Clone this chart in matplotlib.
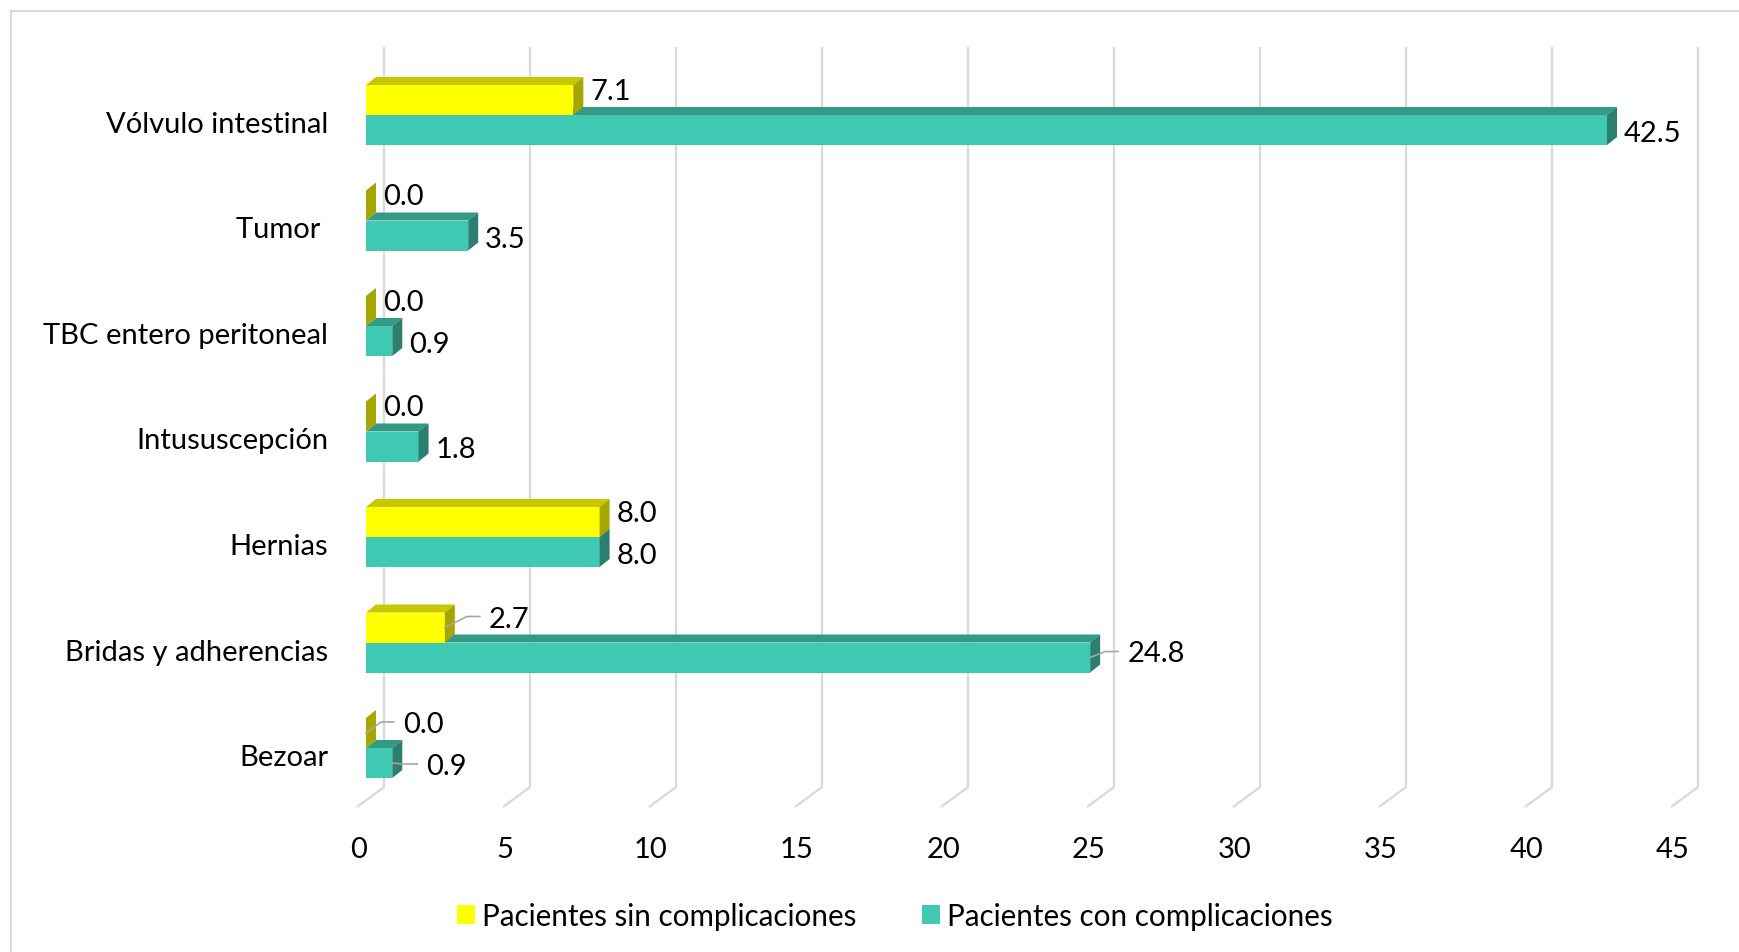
import numpy as np
import matplotlib
matplotlib.use("Agg")
import matplotlib.pyplot as plt
from matplotlib.patches import Polygon, Patch
from matplotlib.lines import Line2D

# ---------------------------------------------------------------------------
# Data
# ---------------------------------------------------------------------------
categories = ["Bezoar", "Bridas y adherencias", "Hernias", "Intususcepción",
              "TBC entero peritoneal", "Tumor ", "Vólvulo intestinal"]
sin_compl = [0.0, 2.7, 8.0, 0.0, 0.0, 0.0, 7.1]
con_compl = [0.9, 24.8, 8.0, 1.8, 0.9, 3.5, 42.5]
series_names = ["Pacientes sin complicaciones", "Pacientes con complicaciones"]
x_ticks = [0, 5, 10, 15, 20, 25, 30, 35, 40, 45]

# ---------------------------------------------------------------------------
# Layout (pixel geometry of the pseudo-3D Excel chart)
# ---------------------------------------------------------------------------
W, H = 1739, 953
X0, SX = 366, 29.2      # pixel x of value 0 on bar front, pixels per unit
Y0, SY = 749, 105.5     # pixel y of first group centre, pixels per category
BAR_PX = 30             # front face thickness of one bar
DEPTH_X, DEPTH_Y = 10, 8
WALL_X = 18             # back wall offset of gridlines
FONT = "Lato"
FS_NUM = 21
FS_CAT = 21
FS_LEG = 21.3

YELLOW = {"front": "#FFFF00", "top": "#C8C800", "side": "#A6A600"}
TEAL = {"front": "#40C9B2", "top": "#339A88", "side": "#2B7F70"}
GRID = "#D9D9D9"


def px(p):
    return p / SX


def py(p):
    # pixel offset downward -> data offset
    return -p / SY


fig = plt.figure(figsize=(W / 100, H / 100), dpi=100)
ax = fig.add_axes([0, 0, 1, 1])
ax.set_xlim(-X0 / SX, (W - X0) / SX)
ax.set_ylim((Y0 - H) / SY, Y0 / SY)
ax.axis("off")

pos = np.arange(len(categories))
h = BAR_PX / SY
ddx, ddy = px(DEPTH_X), DEPTH_Y / SY

# gridlines on back wall plus floor diagonals
floor_back = py(788 - Y0)
floor_front = py(808 - Y0)
grid_top = py(48 - Y0)
for v in x_ticks:
    xb = v + px(WALL_X)
    ax.plot([xb, xb, v - px(9)], [grid_top, floor_back, floor_front],
            color=GRID, lw=1.6, zorder=1, solid_capstyle="butt")
    ax.text(v - px(7), py(858 - Y0), str(v), ha="center", va="baseline",
            fontsize=FS_NUM, family=FONT, color="black")


def bar3d(centers, values, colors):
    ax.barh(centers, values, height=h, left=0, color=colors["front"],
            edgecolor="none", zorder=3)
    for c, v in zip(centers, values):
        top, bot = c + h / 2, c - h / 2
        ax.add_patch(Polygon([(0, top), (v, top), (v + ddx, top + ddy), (ddx, top + ddy)],
                             closed=True, facecolor=colors["top"], edgecolor="none", zorder=3))
        ax.add_patch(Polygon([(v, bot), (v, top), (v + ddx, top + ddy), (v + ddx, bot + ddy)],
                             closed=True, facecolor=colors["side"], edgecolor="none", zorder=3))


# teal first so the yellow bar hides the teal top face
for i in range(len(categories)):
    bar3d([pos[i] - h / 2], [con_compl[i]], TEAL)
    bar3d([pos[i] + h / 2], [sin_compl[i]], YELLOW)

# data labels (baseline offset in px from bar centre, extra shift for leader labels)
LABEL_GAP = 17
BASE_OFF = {0: -1, 1: 11}
LEADERS = {(1, 0): (27, 0), (1, 1): (20, -7), (0, 0): (20, 0), (0, 1): (17, 0)}

for s, (vals, sign) in enumerate([(sin_compl, 1), (con_compl, -1)]):
    for i, v in enumerate(vals):
        yc = pos[i] + sign * h / 2
        extra_x, extra_y = LEADERS.get((i, s), (0, 0))
        lx = v + px(LABEL_GAP + extra_x)
        base = yc + py(BASE_OFF[s] + extra_y)
        ax.text(lx, base, f"{v:.1f}", ha="left", va="baseline",
                fontsize=FS_NUM, family=FONT, color="black", zorder=5)
        if (i, s) in LEADERS:
            ly = base + py(-10)
            ax.plot([v, lx - px(22), lx - px(9)], [yc, ly, ly],
                    color="#A6A6A6", lw=1.2, zorder=4)

# category labels
for i, name in enumerate(categories):
    ax.text(px(328 - X0), pos[i] + py(17), name, ha="right", va="baseline",
            fontsize=FS_CAT, family=FONT, color="black")

# chart frame (cropped at right and bottom)
fig.add_artist(Line2D([11 / W, 1], [1 - 12 / H, 1 - 12 / H], color=GRID, lw=1.5))
fig.add_artist(Line2D([11 / W, 11 / W], [0, 1 - 12 / H], color=GRID, lw=1.5))

handles = [Patch(facecolor=YELLOW["front"], edgecolor="none"),
           Patch(facecolor=TEAL["front"], edgecolor="none")]
fig.legend(handles, series_names, loc="center", bbox_to_anchor=(895 / W, 1 - 917 / H),
           ncol=2, frameon=False, prop={"family": FONT, "size": FS_LEG},
           handlelength=0.6, handleheight=0.62, handletextpad=0.25, columnspacing=2.2)

fig.savefig("out.png", dpi=100)
